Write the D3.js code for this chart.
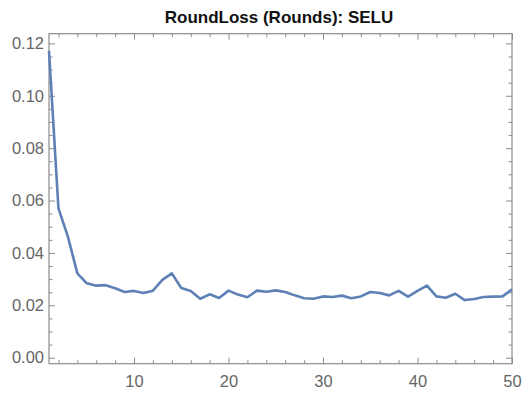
<!DOCTYPE html>
<html><head><meta charset="utf-8">
<script src="https://cdn.jsdelivr.net/npm/d3@7"></script>
<style>body{margin:0;background:#fff;} svg{display:block;}</style>
</head><body>
<script>
const title = "RoundLoss (Rounds): SELU";
const rounds = d3.range(1, 51);
const loss = [0.1172,0.0570,0.0462,0.0322,0.0284,0.0275,0.0277,0.0265,0.0251,0.0255,
  0.0247,0.0256,0.0297,0.0322,0.0266,0.0255,0.0225,0.0242,0.0228,0.0256,
  0.0241,0.0231,0.0256,0.0252,0.0257,0.0251,0.0238,0.0227,0.0225,0.0234,
  0.0232,0.0237,0.0227,0.0234,0.0251,0.0247,0.0238,0.0255,0.0233,0.0255,
  0.0275,0.0234,0.0229,0.0244,0.0220,0.0224,0.0232,0.0233,0.0234,0.0261];
const xMajor = [10,20,30,40,50];
const xMinor = [2,4,6,8,12,14,16,18,22,24,26,28,32,34,36,38,42,44,46,48];
const yMajor = [0,0.02,0.04,0.06,0.08,0.10,0.12];
const yMinor = d3.range(0,25).map(i=>i*0.005).filter(v=>Math.round(v*1000)%20!==0);

const W=525,H=394, L=49, R=512, T=33.7, B=363.7;
const svg = d3.select("body").append("svg").attr("width",W).attr("height",H);
const x = d3.scaleLinear().domain([1,50]).range([L,R]);
const y = d3.scaleLinear().domain([-0.00229,0.1237]).range([B,T]);
const frameCol="#8c8c8c", labCol="#666";

svg.append("text").attr("x",279).attr("y",23).attr("text-anchor","middle")
  .attr("font-family","Liberation Sans, Arial, sans-serif").attr("font-weight","bold")
  .attr("font-size",17).attr("fill","#111").text(title);

svg.append("rect").attr("x",L).attr("y",T).attr("width",R-L).attr("height",B-T)
  .attr("fill","none").attr("stroke",frameCol).attr("stroke-width",1.2);

function ticks(axisGen, vals, size, transform){
  const g = svg.append("g").attr("transform",transform)
    .call(axisGen.tickValues(vals).tickSize(size).tickFormat(""));
  g.select(".domain").remove();
  g.selectAll("line").attr("stroke",frameCol).attr("stroke-width",1);
  return g;
}
ticks(d3.axisTop(x), xMajor, 6, `translate(0,${B})`);
ticks(d3.axisTop(x), xMinor, 3.5, `translate(0,${B})`);
ticks(d3.axisBottom(x), xMajor, 6, `translate(0,${T})`);
ticks(d3.axisBottom(x), xMinor, 3.5, `translate(0,${T})`);
ticks(d3.axisRight(y), yMajor, 6, `translate(${L},0)`);
ticks(d3.axisRight(y), yMinor, 3.5, `translate(${L},0)`);
ticks(d3.axisLeft(y), yMajor, 6, `translate(${R},0)`);
ticks(d3.axisLeft(y), yMinor, 3.5, `translate(${R},0)`);

const gx = svg.append("g").attr("transform",`translate(0,${B})`)
  .call(d3.axisBottom(x).tickValues(xMajor).tickSize(0).tickPadding(12).tickFormat(d3.format("d")));
gx.select(".domain").remove();
gx.selectAll("text").attr("font-family","Liberation Sans, Arial, sans-serif").attr("font-size",16.5).attr("fill",labCol);
const gy = svg.append("g").attr("transform",`translate(${L},0)`)
  .call(d3.axisLeft(y).tickValues(yMajor).tickSize(0).tickPadding(5).tickFormat(d3.format(".2f")));
gy.select(".domain").remove();
gy.selectAll("text").attr("font-family","Liberation Sans, Arial, sans-serif").attr("font-size",16.5).attr("fill",labCol);

const line = d3.line().x((d,i)=>x(rounds[i])).y(d=>y(d));
svg.append("path").datum(loss).attr("d",line).attr("fill","none")
  .attr("stroke","#5e81b5").attr("stroke-width",2.6).attr("stroke-linejoin","round");
</script>
</body></html>
